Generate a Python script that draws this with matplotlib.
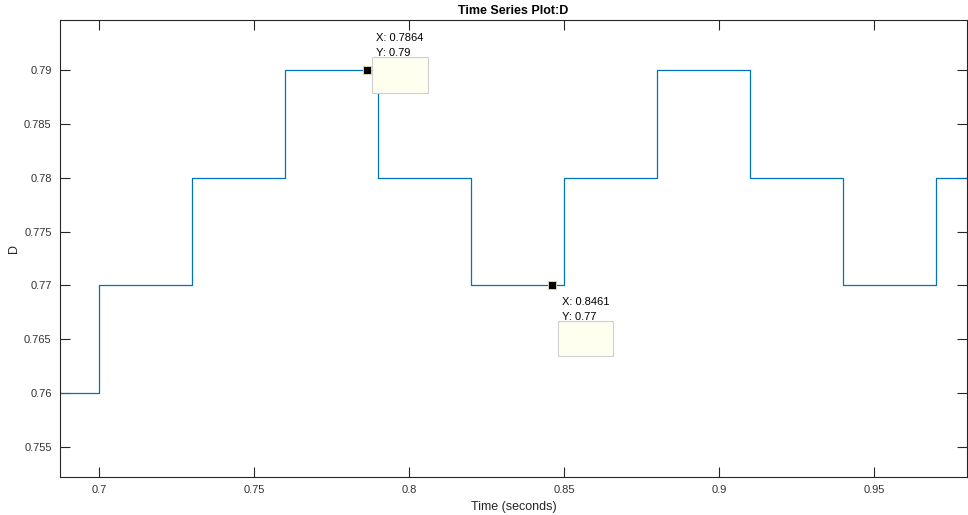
import matplotlib
matplotlib.use("Agg")
import matplotlib.pyplot as plt
from matplotlib.patches import Rectangle
from matplotlib.transforms import Affine2D, ScaledTranslation

# step signal D(t): value holds from each time until the next one
t_pts = [0.68, 0.70, 0.73, 0.76, 0.79, 0.82, 0.85, 0.88, 0.91, 0.94, 0.97, 0.99]
d_vals = [0.76, 0.77, 0.78, 0.79, 0.78, 0.77, 0.78, 0.79, 0.78, 0.77, 0.78, 0.78]

# data tips shown on the plot
tip_x = [0.7864, 0.8461]
tip_y = [0.79, 0.77]
tip_labels = [("X: 0.7864", "Y: 0.79"), ("X: 0.8461", "Y: 0.77")]

xticks = [0.7, 0.75, 0.8, 0.85, 0.9, 0.95]
yticks = [0.755, 0.76, 0.765, 0.77, 0.775, 0.78, 0.785, 0.79]

plt.rcParams['font.family'] = ['Liberation Sans', 'DejaVu Sans']

fig = plt.figure(figsize=(9.68, 5.15), dpi=100)
ax = fig.add_axes([60/968, 1 - 477/515, 907/968, 457/515])

ax.plot(t_pts, d_vals, drawstyle='steps-post', color='#0072BD', lw=0.9)

ax.set_xlim(0.6874, 0.98)
ax.set_ylim(0.75221, 0.79464)
ax.set_xticks(xticks, [f"{v:g}" for v in xticks])
ax.set_yticks(yticks, [f"{v:g}" for v in yticks])
ax.tick_params(direction='in', length=7, width=0.8, top=True, right=True,
               labelsize=8, labelcolor='#333333', colors='#262626', pad=6)
for s in ax.spines.values():
    s.set_linewidth(0.8)
    s.set_color('#262626')

ax.set_title("Time Series Plot:D", fontsize=9, fontweight='bold', pad=4)
ax.set_xlabel("Time (seconds)", fontsize=9, color='#262626', labelpad=4)
ax.set_ylabel("D", fontsize=9, color='#262626', labelpad=3)

# data tip boxes, offsets in pixels from the marker (MATLAB style)
box_off = [(5, -23, 56, 36), (6, -71, 55, 35)]
txt_off = [(9, 32, 17), (10, -17, -32)]
for i in range(len(tip_x)):
    ax.plot(tip_x[i], tip_y[i], marker='s', ms=6, color='black',
            mec='#e8e4b0', mew=0.6, zorder=5)
    bx, by, bw, bh = box_off[i]
    tr = Affine2D().scale(fig.dpi / 100) + ScaledTranslation(tip_x[i], tip_y[i], ax.transData)
    ax.add_patch(Rectangle((bx, by), bw, bh, transform=tr, facecolor='#fffff0',
                           edgecolor='#cfcfcf', lw=0.8, zorder=4, clip_on=False))
    dx, y1, y2 = txt_off[i]
    ax.annotate(tip_labels[i][0], xy=(tip_x[i], tip_y[i]), xytext=(dx, y1),
                textcoords='offset pixels', ha='left', va='center', fontsize=8, zorder=6)
    ax.annotate(tip_labels[i][1], xy=(tip_x[i], tip_y[i]), xytext=(dx, y2),
                textcoords='offset pixels', ha='left', va='center', fontsize=8, zorder=6)

fig.savefig("out.png", dpi=100, facecolor='white')
